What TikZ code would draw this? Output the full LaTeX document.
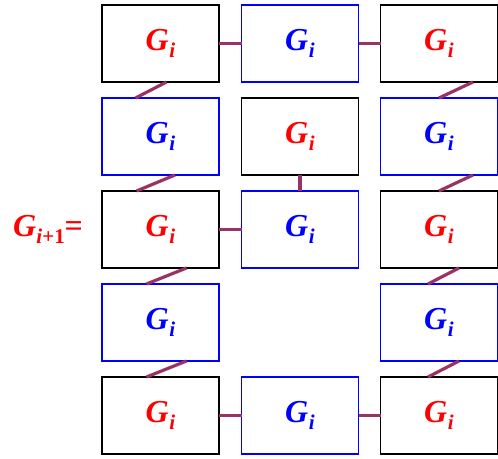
\documentclass[tikz,border=0pt]{standalone}
\usepackage{fontspec}
\setmainfont{Liberation Serif}
\definecolor{linkc}{RGB}{153,51,102}
\begin{document}
\begin{tikzpicture}[x=1pt,y=-1pt,
  box/.style={draw=black,line width=1.8pt,minimum width=117pt,minimum height=77pt,inner sep=0pt,outer sep=0pt,text=red},
  bbox/.style={draw=blue,line width=1.5pt,minimum width=117pt,minimum height=77pt,inner sep=0pt,outer sep=0pt,text=blue},
  link/.style={draw=linkc,line width=3.2pt},
  gtxt/.style={font=\fontsize{32}{34}\selectfont\bfseries\itshape}]
\useasboundingbox (0,0) rectangle (498,458);
\newcommand{\Gi}{G\kern0.02em\raisebox{-0.22em}{\fontsize{21}{22}\selectfont i}}
% row 1
\node[box,gtxt] (b11) at (160.5,43.5) {\Gi};
\node[bbox,gtxt] (b12) at (300,43.5) {\Gi};
\node[box,gtxt] (b13) at (439,43.5) {\Gi};
% row 2
\node[bbox,gtxt] (b21) at (160.5,136.5) {\Gi};
\node[box,gtxt] (b22) at (300,136.5) {\Gi};
\node[bbox,gtxt] (b23) at (439,136.5) {\Gi};
% row 3
\node[box,gtxt] (b31) at (160.5,229.5) {\Gi};
\node[bbox,gtxt] (b32) at (300,229.5) {\Gi};
\node[box,gtxt] (b33) at (439,229.5) {\Gi};
% row 4
\node[bbox,gtxt] (b41) at (160.5,322.5) {\Gi};
\node[bbox,gtxt] (b43) at (439,322.5) {\Gi};
% row 5
\node[box,gtxt] (b51) at (160.5,415.5) {\Gi};
\node[bbox,gtxt] (b52) at (300,415.5) {\Gi};
\node[box,gtxt] (b53) at (439,415.5) {\Gi};
% label
\node[gtxt,text=red,inner sep=0pt] (lab) at (48,229) {G\kern0.01em\raisebox{-0.22em}{\fontsize{21}{22}\selectfont i\upshape +1}\upshape =};
% horizontal / vertical links
\draw[link] (b11.east) -- (b12.west);
\draw[link] (b12.east) -- (b13.west);
\draw[link] (b31.east) -- (b32.west);
\draw[link] (b51.east) -- (b52.west);
\draw[link] (b52.east) -- (b53.west);
\draw[link] (b22.south) -- (b32.north);
% diagonal links, column 1
\draw[link] ([xshift=6pt]b11.south) -- ([xshift=-25pt]b21.north);
\draw[link] ([xshift=14.5pt]b21.south) -- ([xshift=-24pt]b31.north);
\draw[link] ([xshift=26pt]b31.south) -- ([xshift=-14pt]b41.north);
\draw[link] ([xshift=26pt]b41.south) -- ([xshift=-14pt]b51.north);
% diagonal links, column 3
\draw[link] ([xshift=34pt]b13.south) -- (b23.north);
\draw[link] ([xshift=34pt]b23.south) -- (b33.north);
\draw[link] ([xshift=20pt]b33.south) -- ([xshift=-11pt]b43.north);
\draw[link] ([xshift=20pt]b43.south) -- ([xshift=-11pt]b53.north);
\end{tikzpicture}
\end{document}
